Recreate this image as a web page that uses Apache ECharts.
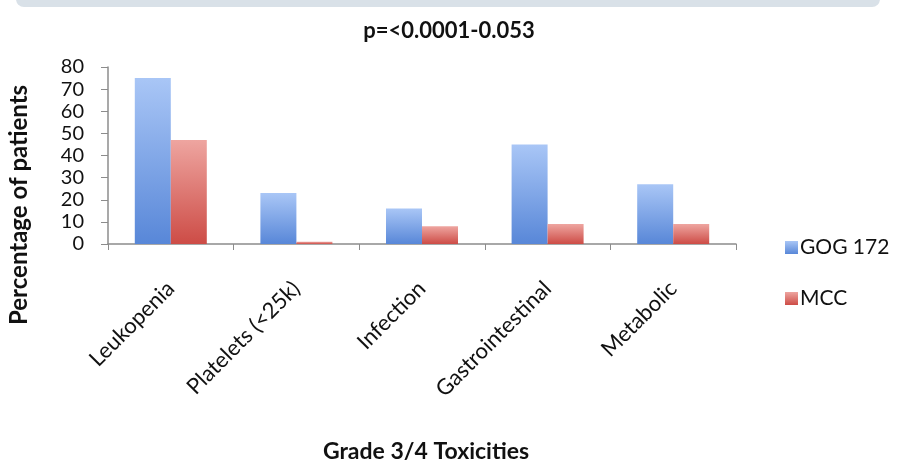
<!DOCTYPE html>
<html><head><meta charset="utf-8">
<script src="https://cdn.jsdelivr.net/npm/echarts@6/dist/echarts.min.js"></script>
<style>html,body{margin:0;padding:0;background:#fff;}#c{width:898px;height:463px;}</style>
</head><body><div id="c"></div>
<script>
var categories = ['Leukopenia', 'Platelets (<25k)', 'Infection', 'Gastrointestinal', 'Metabolic'];
var gog172 = [75, 23, 16, 45, 27];
var mcc = [47, 1, 8, 9, 9];
var seriesNames = ['GOG 172', 'MCC'];
var titleText = 'p=<0.0001-0.053';
var yTitle = 'Percentage of patients';
var xTitle = 'Grade 3/4 Toxicities';

var FONT = 'Lato';
function grad(top, bottom) {
  return new echarts.graphic.LinearGradient(0, 0, 0, 1, [{offset: 0, color: top}, {offset: 1, color: bottom}]);
}
var chart = echarts.init(document.getElementById('c'), null, {renderer: 'canvas'});
chart.setOption({
  backgroundColor: '#ffffff',
  animation: false,
  title: {
    text: titleText, left: 'center', top: 15,
    textStyle: {fontFamily: FONT, fontWeight: 'bold', fontSize: 22, color: '#111'}
  },
  graphic: [
    {type: 'rect', shape: {x: 16, y: -10, width: 864, height: 17, r: 8}, style: {fill: '#d9e1e8'}},
    {type: 'text', rotation: Math.PI / 2,
     style: {text: yTitle, fontFamily: FONT, fontWeight: 'bold', fontSize: 24, fill: '#111'},
     x: 7, y: 325},
    {type: 'text', style: {text: xTitle, fontFamily: FONT, fontWeight: 'bold', fontSize: 23, fill: '#111', textAlign: 'center'},
     x: 426, y: 440}
  ],
  legend: {
    orient: 'vertical', left: 780, top: 232, itemGap: 30, itemWidth: 13, itemHeight: 13,
    icon: 'rect', data: seriesNames,
    textStyle: {fontFamily: FONT, fontSize: 21, color: '#111', padding: [0, 0, 0, -3]}
  },
  grid: {left: 108, right: 162, top: 67, bottom: 219, containLabel: false},
  xAxis: {
    type: 'category', data: categories,
    axisLine: {lineStyle: {color: '#8c8c8c', width: 1.5}},
    axisTick: {show: true, length: 6, lineStyle: {color: '#8c8c8c'}},
    axisLabel: {rotate: 45, margin: 41, fontFamily: FONT, fontSize: 22, color: '#111', interval: 0}
  },
  yAxis: {
    type: 'value', min: 0, max: 80, interval: 10,
    splitLine: {show: false},
    axisLine: {show: true, lineStyle: {color: '#8c8c8c', width: 1.5}},
    axisTick: {show: true, inside: false, length: 7, lineStyle: {color: '#8c8c8c'}},
    axisLabel: {margin: 24, fontFamily: FONT, fontSize: 20, color: '#111'}
  },
  series: [
    {name: seriesNames[0], type: 'bar', data: gog172, barWidth: 36, barGap: '0%',
     itemStyle: {color: grad('#a9c6f6', '#5887d8')}},
    {name: seriesNames[1], type: 'bar', data: mcc, barWidth: 36,
     itemStyle: {color: grad('#eea5a0', '#cd4c46')}}
  ]
});
</script></body></html>
